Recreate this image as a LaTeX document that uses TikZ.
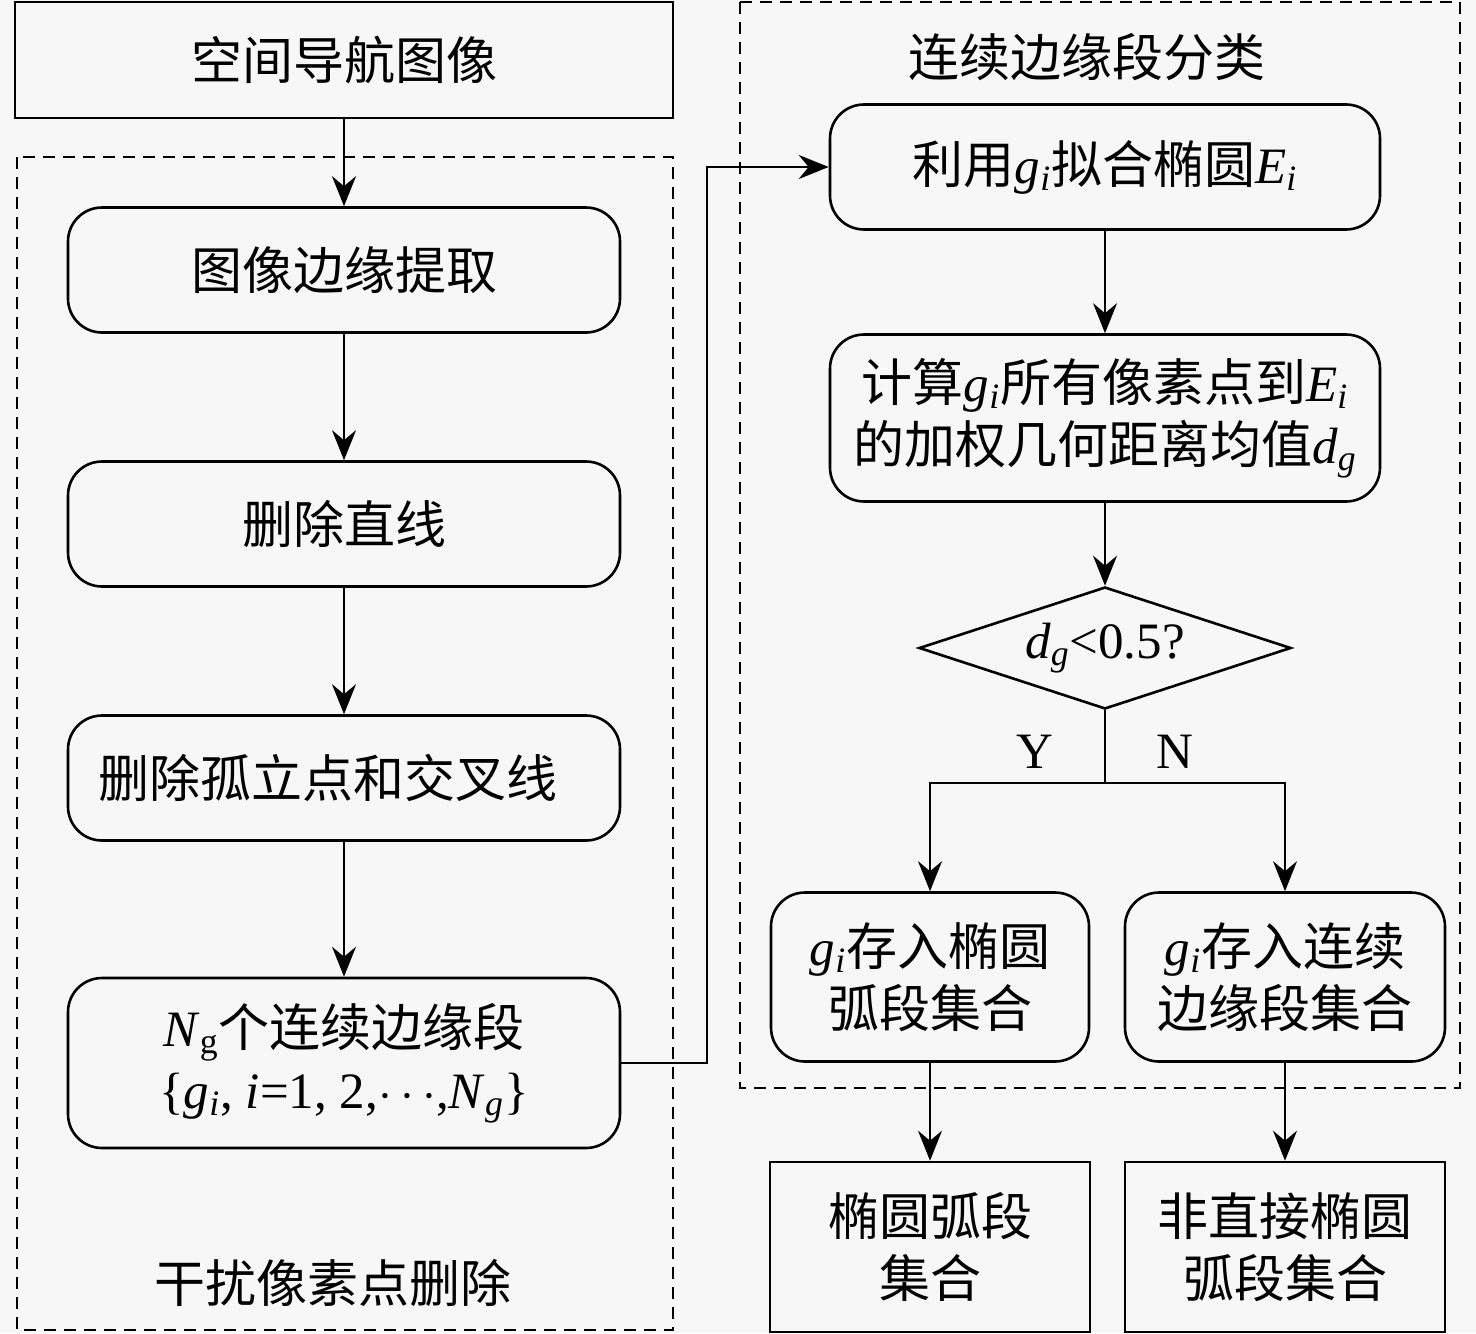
\documentclass[tikz,border=0pt]{standalone}
\usepackage{fontspec}
\setmainfont{Noto Sans CJK SC}
\newfontfamily\lat{Liberation Serif}
\usetikzlibrary{arrows.meta}
\usetikzlibrary{shapes.geometric}
\newcommand{\vi}[2]{{\lat\textit{#1}\textsubscript{\textit{#2}}}}
\newcommand{\vu}[2]{{\lat\textit{#1}\textsubscript{#2}}}
\tikzstyle{roundbox}=[draw, rounded corners=17pt, line width=1.3pt, align=center, inner sep=0pt, minimum width=276pt, minimum height=62.5pt]
\tikzstyle{plainbox}=[draw, line width=1.3pt, align=center, inner sep=0pt]
\tikzstyle{frame}=[dash pattern=on 6pt off 4pt, line width=1.3pt]
\tikzstyle{arr}=[-{Stealth[length=15pt,width=12pt,inset=5pt]}, line width=1pt]

\begin{document}
\begin{tikzpicture}[x=0.5pt, y=-0.5pt, font=\fontsize{25.5}{31}\selectfont]
    \fill[black!3] (0,0) rectangle (1476,1333);
    \useasboundingbox (0,0) rectangle (1476,1333);
    % frames
    \draw[frame] (17,157) rectangle (673,1330);
    \draw[frame] (740,2) rectangle (1460,1088);
    \node (leftlabel) at (333,1283) {干扰像素点删除};
    \node (rightlabel) at (1087,57) {连续边缘段分类};
    % left column
    \node[plainbox, minimum width=329pt, minimum height=58pt] (img) at (344,60) {空间导航图像};
    \node[roundbox] (edge) at (344,270) {图像边缘提取};
    \node[roundbox] (delline) at (344,524) {删除直线};
    \node[roundbox] (delpt) at (344,778) {删除孤立点和交叉线\hspace{16pt}};
    \node[roundbox, minimum height=85pt] (segs) at (344,1063) {\vu{N}{g}个连续边缘段\\{\lat\{\textit{g}\textsubscript{\textit{i}}, \textit{i}=1, 2,$\cdots$,\textit{N}\textsubscript{\textit{g}}\}}};
    % right column
    \node[roundbox, minimum width=275pt] (fit) at (1105,167) {利用\vi{g}{i}拟合椭圆\vi{E}{i}};
    \node[roundbox, minimum width=275pt, minimum height=83.5pt] (dist) at (1105,418) {计算\vi{g}{i}所有像素点到\vi{E}{i}\\的加权几何距离均值\vi{d}{g}};
    \node[draw, diamond, aspect=3, line width=1.3pt, inner sep=0pt, minimum width=186pt, minimum height=61pt] (judge) at (1105,648) {\vi{d}{g}{\lat<0.5?}};
    \node[roundbox, minimum width=159pt, minimum height=84.5pt] (arcset) at (930,977) {\vi{g}{i}存入椭圆\\弧段集合};
    \node[roundbox, minimum width=160pt, minimum height=84.5pt] (contset) at (1285,977) {\vi{g}{i}存入连续\\边缘段集合};
    \node[plainbox, minimum width=160pt, minimum height=85pt] (arcout) at (930,1247) {椭圆弧段\\集合};
    \node[plainbox, minimum width=160pt, minimum height=85pt] (indout) at (1285,1247) {非直接椭圆\\弧段集合};
    % connectors
    \foreach \a/\b in {img/edge, edge/delline, delline/delpt, delpt/segs, fit/dist, dist/judge, arcset/arcout, contset/indout}
        \draw[arr] (\a) -- (\b);
    \draw[arr] (segs.east) -- ++(86,0) |- (fit.west);
    \coordinate (split) at (1105,783);
    \draw[line width=1pt] (judge.south) -- (split);
    \draw[arr] (split) -| (arcset.north);
    \draw[arr] (split) -| (contset.north);
    \node[font=\fontsize{25.5}{31}\selectfont\lat] (yes) at (1035,752) {Y};
    \node[font=\fontsize{25.5}{31}\selectfont\lat] (no) at (1175,752) {N};
\end{tikzpicture}
\end{document}
